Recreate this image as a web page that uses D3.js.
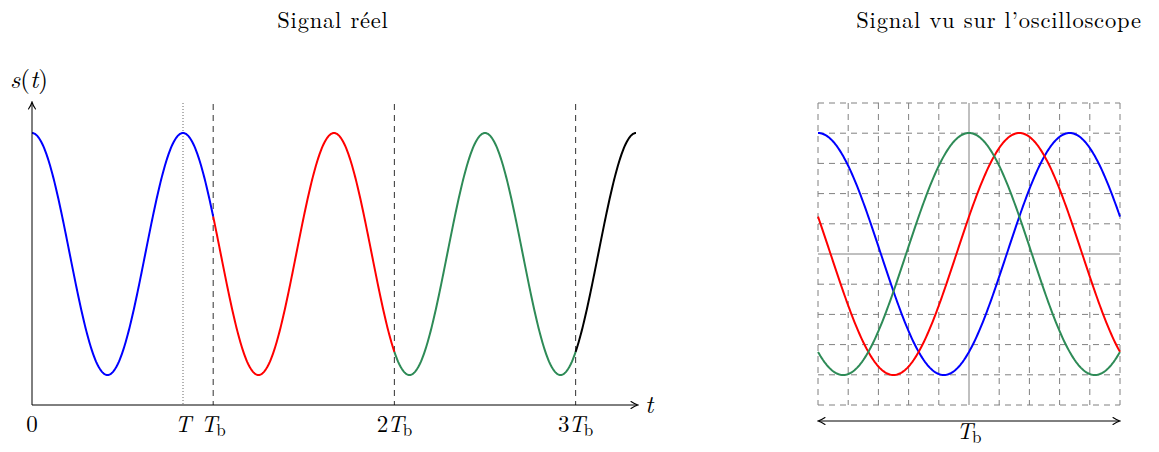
<!DOCTYPE html>
<html>
<head>
<meta charset="utf-8">
<script src="https://cdn.jsdelivr.net/npm/d3@7"></script>
<style>
  body { margin: 0; background: #fff; }
  text { font-family: "Latin Modern Roman", "Liberation Serif", "DejaVu Serif", serif; fill: #000; }
  .math { font-style: italic; }
</style>
</head>
<body>
<div id="chart"></div>
<script>
// signal parameters
var period = 1;          // T
var sampling = 1.2;      // T_b
var tEnd = 4;            // end of the drawn signal
var amplitude = 1;
var yLimit = 1.248;      // axis extent (s units)

// one coloured segment per sampling period, the last one runs to tEnd
var segmentStarts = [0, 1.2, 2.4, 3.6];
var segmentEnds = [1.2, 2.4, 3.6, 4];
var segmentColors = ['#0000ff', '#ff0000', '#2e8b57', '#000000'];

// what the oscilloscope shows: the first three segments folded on [0, T_b]
var scopeShifts = [0, 1.2, 2.4];
var scopeColors = ['#0000ff', '#ff0000', '#2e8b57'];

var tickValues = [0, 1, 1.2, 2.4, 3.6];
var tickLabels = [['0', ''], ['T', ''], ['T', 'b'], ['2T', 'b'], ['3T', 'b']];
var gridDivisions = 10;

var W = 1159, H = 452;

var svg = d3.select('#chart').append('svg')
    .attr('width', W)
    .attr('height', H);

var defs = svg.append('defs');
defs.append('marker')
    .attr('id', 'arrow')
    .attr('viewBox', '-8 -5 10 10')
    .attr('refX', 0).attr('refY', 0)
    .attr('markerWidth', 10).attr('markerHeight', 10)
    .attr('markerUnits', 'userSpaceOnUse')
    .attr('orient', 'auto-start-reverse')
    .append('path')
    .attr('d', 'M-6,-3.5 Q-2,-0.8 1,0 Q-2,0.8 -6,3.5')
    .attr('fill', 'none')
    .attr('stroke', '#000')
    .attr('stroke-width', 1.1)
    .attr('stroke-linecap', 'round');

function signal(t) {
    return amplitude * Math.cos(2 * Math.PI * t / period);
}

function sample(a, b) {
    var n = Math.max(2, Math.round((b - a) * 200));
    return d3.range(n + 1).map(function(i) { return a + (b - a) * i / n; });
}

// ---------- left: real signal ----------
var x = d3.scaleLinear().domain([0, 4]).range([32, 636]);
var y = d3.scaleLinear().domain([-yLimit, yLimit]).range([405, 103]);

var left = svg.append('g').attr('class', 'left');

// vertical helper lines
left.append('line')
    .attr('x1', x(period)).attr('x2', x(period))
    .attr('y1', y(yLimit)).attr('y2', y(-yLimit))
    .attr('stroke', '#666').attr('stroke-width', 1)
    .attr('stroke-dasharray', '1,2');

left.selectAll('line.tb')
    .data(tickValues.slice(2))
    .enter().append('line')
    .attr('class', 'tb')
    .attr('x1', function(d) { return x(d); })
    .attr('x2', function(d) { return x(d); })
    .attr('y1', y(yLimit) + 1).attr('y2', y(-yLimit))
    .attr('stroke', '#444').attr('stroke-width', 1.1)
    .attr('stroke-dasharray', '6,5');

var line = d3.line()
    .x(function(t) { return x(t); })
    .y(function(t) { return y(signal(t)); });

left.selectAll('path.seg')
    .data(segmentStarts)
    .enter().append('path')
    .attr('class', 'seg')
    .attr('d', function(d, i) { return line(sample(d, segmentEnds[i])); })
    .attr('fill', 'none')
    .attr('stroke', function(d, i) { return segmentColors[i]; })
    .attr('stroke-width', 2);

// axes
left.append('line')
    .attr('x1', x(0)).attr('x2', x(4) + 1)
    .attr('y1', y(-yLimit)).attr('y2', y(-yLimit))
    .attr('stroke', '#000').attr('stroke-width', 1)
    .attr('marker-end', 'url(#arrow)');
left.append('line')
    .attr('x1', x(0)).attr('x2', x(0))
    .attr('y1', y(-yLimit)).attr('y2', y(yLimit))
    .attr('stroke', '#000').attr('stroke-width', 1)
    .attr('marker-end', 'url(#arrow)');

var labels = left.selectAll('text.tick')
    .data(tickValues)
    .enter().append('text')
    .attr('class', 'tick')
    .attr('x', function(d) { return x(d); })
    .attr('y', 432)
    .attr('text-anchor', 'middle')
    .attr('font-size', 23);
labels.each(function(d, i) {
    var el = d3.select(this);
    var lab = tickLabels[i];
    var main = lab[0];
    if (main === '0') { el.append('tspan').text('0'); return; }
    var coef = main.slice(0, -1);
    if (coef) el.append('tspan').text(coef);
    el.append('tspan').attr('class', 'math').attr('dx', coef ? -1 : 0).text('T');
    if (lab[1]) el.append('tspan').attr('font-size', 17).attr('dx', -1).attr('dy', 4).text(lab[1]);
});

left.append('text')
    .attr('x', 10).attr('y', 88)
    .attr('font-size', 25)
    .html('<tspan class="math">s</tspan>(<tspan class="math">t</tspan>)');
left.append('text')
    .attr('class', 'math')
    .attr('x', 645).attr('y', 413)
    .attr('font-size', 25)
    .text('t');

left.append('text')
    .attr('x', 333).attr('y', 28)
    .attr('text-anchor', 'middle')
    .attr('font-size', 22.5)
    .attr('letter-spacing', 0.8)
    .text('Signal réel');

// ---------- right: oscilloscope ----------
var xs = d3.scaleLinear().domain([0, sampling]).range([818, 1120]);
var right = svg.append('g').attr('class', 'right');

var gx = d3.range(gridDivisions + 1).map(function(i) { return sampling * i / gridDivisions; });
var gy = d3.range(gridDivisions + 1).map(function(i) { return -yLimit + 2 * yLimit * i / gridDivisions; });

right.selectAll('line.gv')
    .data(gx)
    .enter().append('line')
    .attr('class', 'gv')
    .attr('x1', function(d) { return xs(d); })
    .attr('x2', function(d) { return xs(d); })
    .attr('y1', y(yLimit)).attr('y2', y(-yLimit))
    .attr('stroke', '#808080').attr('stroke-width', 1)
    .attr('stroke-dasharray', function(d, i) { return i === gridDivisions / 2 ? null : '6,5'; });

right.selectAll('line.gh')
    .data(gy)
    .enter().append('line')
    .attr('class', 'gh')
    .attr('x1', xs(0)).attr('x2', xs(sampling))
    .attr('y1', function(d) { return y(d); })
    .attr('y2', function(d) { return y(d); })
    .attr('stroke', '#808080').attr('stroke-width', 1)
    .attr('stroke-dasharray', function(d, i) { return i === gridDivisions / 2 ? null : '6,5'; });

right.selectAll('path.scope')
    .data(scopeShifts)
    .enter().append('path')
    .attr('class', 'scope')
    .attr('d', function(shift) {
        return d3.line()
            .x(function(t) { return xs(t); })
            .y(function(t) { return y(signal(t + shift)); })(sample(0, sampling));
    })
    .attr('fill', 'none')
    .attr('stroke', function(d, i) { return scopeColors[i]; })
    .attr('stroke-width', 2);

right.append('line')
    .attr('x1', xs(0) + 1).attr('x2', xs(sampling) - 1)
    .attr('y1', 421).attr('y2', 421)
    .attr('stroke', '#000').attr('stroke-width', 1)
    .attr('marker-start', 'url(#arrow)')
    .attr('marker-end', 'url(#arrow)');

right.append('text')
    .attr('x', xs(sampling / 2)).attr('y', 439)
    .attr('text-anchor', 'middle')
    .attr('font-size', 23)
    .html('<tspan class="math">T</tspan><tspan font-size="17" dx="-1" dy="4">b</tspan>');

right.append('text')
    .attr('x', 999).attr('y', 28)
    .attr('text-anchor', 'middle')
    .attr('font-size', 22.5)
    .attr('letter-spacing', 0.8)
    .text('Signal vu sur l’oscilloscope');
</script>
</body>
</html>
